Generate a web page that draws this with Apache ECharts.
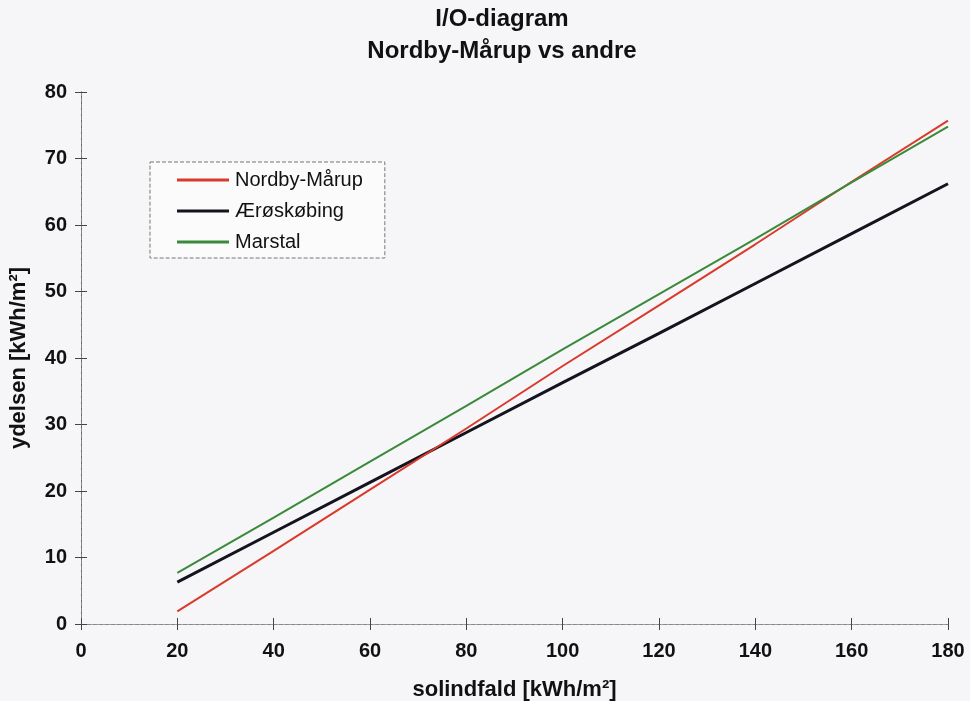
<!DOCTYPE html>
<html><head><meta charset="utf-8">
<script src="https://cdn.jsdelivr.net/npm/echarts@6/dist/echarts.min.js"></script>
<style>html,body{margin:0;padding:0;background:#f6f6f8}#c{width:970px;height:701px}</style>
</head><body><div id="c"></div>
<script>
const xValues = [20, 40, 60, 80, 100, 120, 140, 160, 180];
const nordbyMarup = [1.9, 11.0, 20.2, 29.4, 38.8, 47.9, 57.1, 66.5, 75.7];
const aeroskobing = [6.3, 13.8, 21.3, 28.8, 36.3, 43.7, 51.2, 58.7, 66.2];
const marstal = [7.7, 16.0, 24.4, 32.8, 41.3, 49.6, 57.9, 66.4, 74.8];
const seriesNames = ['Nordby-Mårup', 'Ærøskøbing', 'Marstal'];

const pairs = arr => xValues.map((x, i) => [x, arr[i]]);
const font = 'Liberation Sans, Arial, sans-serif';
const chart = echarts.init(document.getElementById('c'));
const hiddenAxis = (pos, extra) => Object.assign({
  type: 'value', position: pos, min: 0, max: 180, interval: 20,
  axisLabel: {show: false}, splitLine: {show: false}
}, extra);
chart.setOption({
  backgroundColor: '#f6f6f8',
  animation: false,
  title: {
    text: 'I/O-diagram\nNordby-Mårup vs andre',
    left: 502, top: 0, textAlign: 'center', padding: [3, 0, 0, 0],
    textStyle: {fontFamily: font, fontWeight: 'bold', fontSize: 24, lineHeight: 32, color: '#111'}
  },
  legend: {
    orient: 'vertical', left: 150, top: 162,
    padding: [8, 22, 6, 27], itemGap: 11,
    backgroundColor: '#fbfbfc',
    borderColor: '#777', borderWidth: 1, borderType: 'dashed',
    icon: 'rect', itemWidth: 52, itemHeight: 3,
    textStyle: {fontFamily: font, fontSize: 20, color: '#111', padding: [0, 0, 0, 1]},
    data: seriesNames
  },
  grid: {left: 81, right: 22, top: 92, bottom: 77, containLabel: false, outerBoundsMode: 'none'},
  xAxis: [
    {type: 'value', min: 0, max: 180, interval: 20,
     name: 'solindfald [kWh/m²]', nameLocation: 'middle', nameGap: 55,
     nameTextStyle: {fontFamily: font, fontWeight: 'bold', fontSize: 22, color: '#111'},
     axisLine: {onZero: false, lineStyle: {color: '#555', width: 1, type: 'dashed'}},
     axisTick: {length: 6, lineStyle: {color: '#444'}},
     axisLabel: {fontFamily: font, fontWeight: 'bold', fontSize: 20, color: '#111', margin: 17},
     splitLine: {show: false}},
    hiddenAxis('bottom', {axisLine: {show: false}, axisTick: {inside: true, length: 6, lineStyle: {color: '#444'}}}),
    hiddenAxis('top', {axisLine: {show: true, lineStyle: {color: '#888', type: 'dashed'}}, axisTick: {show: false}})
  ],
  yAxis: [
    {type: 'value', min: 0, max: 80, interval: 10,
     name: 'ydelsen [kWh/m²]', nameLocation: 'middle', nameGap: 51,
     nameTextStyle: {fontFamily: font, fontWeight: 'bold', fontSize: 22, color: '#111'},
     axisLine: {show: true, onZero: false, lineStyle: {color: '#555', width: 1}},
     axisTick: {show: true, length: 6, lineStyle: {color: '#444'}},
     axisLabel: {fontFamily: font, fontWeight: 'bold', fontSize: 20, color: '#111', margin: 14},
     splitLine: {show: false}},
    {type: 'value', position: 'left', min: 0, max: 80, interval: 10,
     axisLine: {show: false}, axisLabel: {show: false}, splitLine: {show: false},
     axisTick: {show: true, inside: true, length: 6, lineStyle: {color: '#444'}}},
    {type: 'value', position: 'right', min: 0, max: 80, interval: 10,
     axisLine: {show: true, lineStyle: {color: '#888', type: 'dashed'}},
     axisLabel: {show: false}, axisTick: {show: false}, splitLine: {show: false}}
  ],
  series: [
    {name: seriesNames[0], type: 'line', data: pairs(nordbyMarup), showSymbol: false, symbol: 'none',
     itemStyle: {color: '#d93a2b'}, lineStyle: {color: '#d93a2b', width: 2}, z: 3},
    {name: seriesNames[1], type: 'line', data: pairs(aeroskobing), showSymbol: false, symbol: 'none',
     itemStyle: {color: '#14141e'}, lineStyle: {color: '#14141e', width: 3}, z: 2},
    {name: seriesNames[2], type: 'line', data: pairs(marstal), showSymbol: false, symbol: 'none',
     itemStyle: {color: '#3a8a3a'}, lineStyle: {color: '#3a8a3a', width: 2}, z: 4}
  ]
});
</script></body></html>
